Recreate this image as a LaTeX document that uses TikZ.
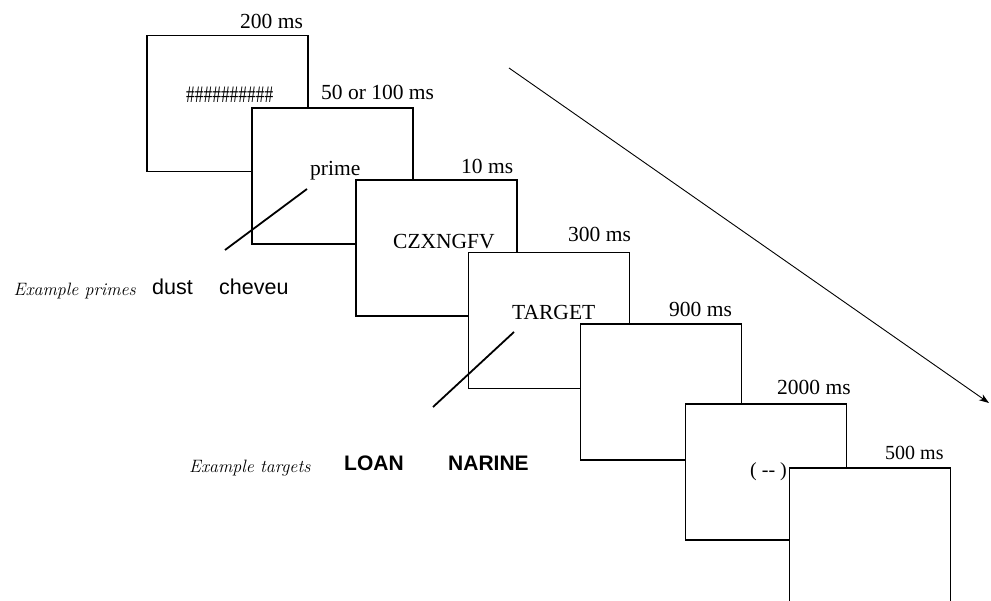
\documentclass[tikz,border=0pt]{standalone}
\usepackage{fontspec}
\usetikzlibrary{arrows.meta}
\newfontfamily\tnr{Liberation Serif}
\newfontfamily\ars{Liberation Sans}
\begin{document}
\begin{tikzpicture}[x=1pt,y=-1pt,
  screen/.style={draw, line width=1.4pt, fill=white, inner sep=0pt,
    minimum width=161pt, minimum height=136pt},
  lab/.style={inner sep=0pt, anchor=base west, font=\tnr\fontsize{21.5}{24}\selectfont},
  smalllab/.style={inner sep=0pt, anchor=base west, font=\tnr\fontsize{20}{23}\selectfont},
  exlab/.style={inner sep=0pt, anchor=base west, font=\itshape\fontsize{17.9}{20}\selectfont},
  word/.style={inner sep=0pt, anchor=base west, font=\ars\fontsize{21.5}{24}\selectfont},
  bword/.style={inner sep=0pt, anchor=base west, font=\ars\bfseries\fontsize{21}{24}\selectfont},
  slash/.style={line width=1.8pt},
  timearrow/.style={line width=0.9pt, -{Stealth[length=10pt,width=7pt,inset=3pt]}}]
\clip (0,0) rectangle (991,601);
% screen 1
\node[screen] (b1) at (227.5,103.5) {};
\node[lab] (t1) at (240,29) {200 ms};
\node[lab] (c1) at (186,103) {\scalebox{0.81}[1.1]{\#\#\#\#\#\#\#\#\#\#}};
% screen 2
\node[screen] (b2) at (332.5,176) {};
\node[lab] (t2) at (321,100) {50 or 100 ms};
\node[lab] (c2) at (310,176) {prime};
\coordinate (s1a) at (307,189);
\coordinate (s1b) at (225,250);
\draw[slash] (s1a) -- (s1b);
% screen 3
\node[screen] (b3) at (436.5,248) {};
\node[lab] (t3) at (461,174) {10 ms};
\node[lab] (c3) at (393,249) {CZXNGFV};
% screen 4
\node[screen] (b4) at (549,320.5) {};
\node[lab] (t4) at (568,242) {300 ms};
\node[lab] (c4) at (512,320) {TARGET};
\coordinate (s2a) at (514,332);
\coordinate (s2b) at (433,407);
\draw[slash] (s2a) -- (s2b);
% screen 5
\node[screen] (b5) at (661,392) {};
\node[lab] (t5) at (669,317) {900 ms};
% screen 6
\node[screen] (b6) at (766,472) {};
\node[lab] (t6) at (777,395) {2000 ms};
\node[smalllab] (c6) at (750,476) {( -{}- )};
% screen 7
\node[screen] (b7) at (870,536) {};
\node[smalllab] (t7) at (885,460) {500 ms};
% examples
\node[exlab] (ep) at (13.5,296) {Example primes};
\node[word] (w1) at (152,295) {dust};
\node[word] (w2) at (219,295) {cheveu};
\node[exlab] (et) at (189,472) {Example targets};
\node[bword] (w3) at (344,471) {LOAN};
\node[bword] (w4) at (448,471) {NARINE};
% time arrow
\coordinate (ta) at (509,68);
\coordinate (tb) at (989,403);
\draw[timearrow] (ta) -- (tb);
\end{tikzpicture}
\end{document}
